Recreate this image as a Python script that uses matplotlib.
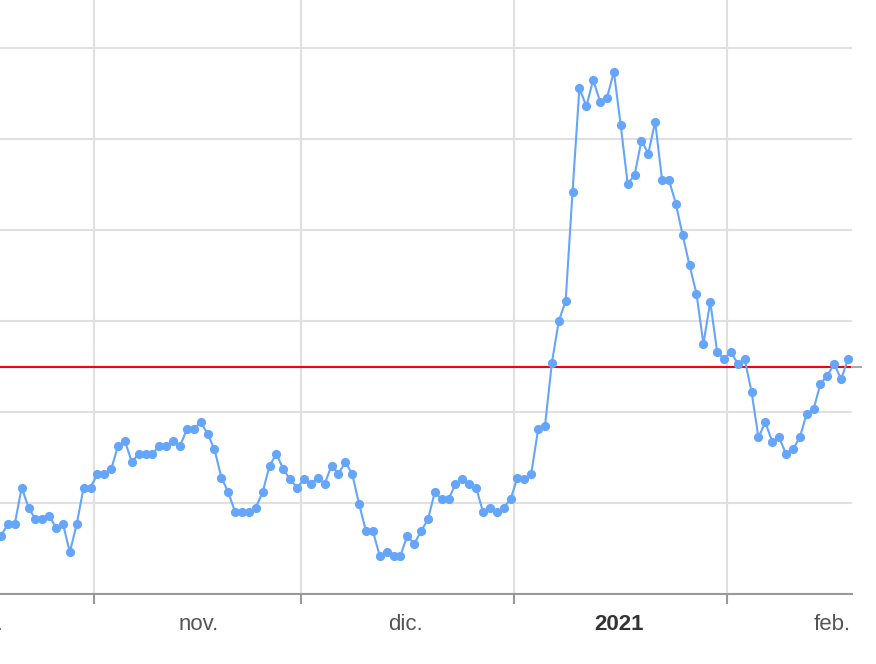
import datetime as dt
import matplotlib
matplotlib.use("Agg")
import matplotlib.pyplot as plt
import matplotlib.dates as mdates
import matplotlib.transforms as mtransforms
import pandas as pd

# daily values (one point per day)
values = [6.4, 7.7, 7.7, 11.7, 9.5, 8.2, 8.2, 8.6, 7.3, 7.7,
          4.6, 7.7, 11.7, 11.7, 13.2, 13.2, 13.7, 16.3, 16.8, 14.5,
          15.4, 15.4, 15.4, 16.3, 16.3, 16.8, 16.3, 18.1, 18.1, 18.9,
          17.6, 15.9, 12.8, 11.2, 9.0, 9.0, 9.0, 9.5, 11.2, 14.1,
          15.4, 13.7, 12.6, 11.7, 12.6, 12.1, 12.8, 12.1, 14.1, 13.2,
          14.5, 13.2, 9.9, 6.9, 6.9, 4.2, 4.6, 4.2, 4.2, 6.4,
          5.5, 6.9, 8.2, 11.2, 10.4, 10.4, 12.1, 12.6, 12.1, 11.7,
          9.0, 9.5, 9.0, 9.5, 10.4, 12.8, 12.6, 13.2, 18.1, 18.5,
          25.4, 30.0, 32.2, 44.2, 55.6, 53.6, 56.5, 54.1, 54.5, 57.4,
          51.5, 45.1, 46.0, 49.8, 48.4, 51.9, 45.5, 45.5, 42.9, 39.4,
          36.1, 33.0, 27.5, 32.1, 26.6, 25.8, 26.6, 25.3, 25.8, 22.2,
          17.2, 18.9, 16.7, 17.2, 15.4, 15.9, 17.2, 19.8, 20.3, 23.1,
          24.0, 25.3, 23.6, 25.8]
dates = pd.date_range("2020-10-18 12:00", periods=len(values), freq="D")

threshold = 25
month_starts = [dt.datetime(2020, 10, 1), dt.datetime(2020, 11, 1), dt.datetime(2020, 12, 1),
                dt.datetime(2021, 1, 1), dt.datetime(2021, 2, 1)]
month_labels = ["oct.", "nov.", "dic.", "2021", "feb."]
y_ticks = [0, 10, 20, 30, 40, 50, 60]

fig = plt.figure(figsize=(8.76, 6.64), dpi=100)
ax = fig.add_axes([0, 70 / 664, 852 / 876, 594 / 664])

x = mdates.date2num(dates)
px_per_day = 6.886
ax.set_xlim(x[0] - 1 / px_per_day, x[0] + 851 / px_per_day)
ax.set_ylim(0, 594 / 9.1)

ax.set_yticks(y_ticks)
ax.set_yticklabels([])
ax.tick_params(axis="y", length=0)
ax.grid(axis="y", color="#e0e0e0", linewidth=1.5)

ticks = mdates.date2num(month_starts[1:])
ax.set_xticks(ticks)
ax.set_xticklabels([])
ax.tick_params(axis="x", length=7, width=1.5, color="#999999")
for t in ticks:
    ax.axvline(t, color="#e0e0e0", linewidth=1.5, zorder=0)

for s in ["left", "right", "top"]:
    ax.spines[s].set_visible(False)
ax.spines["bottom"].set_color("#999999")
ax.spines["bottom"].set_linewidth(1.5)

ax.axhline(threshold, color="#ff0000", linewidth=1.5, zorder=2)
xr = ax.get_xlim()[1]
ax.plot([xr, xr + 9 / px_per_day], [threshold, threshold], color="#aaaaaa",
        linewidth=1.5, clip_on=False)

ax.plot(x, values, color="#65a5fb", linewidth=1.5, marker="o", markersize=5.6,
        zorder=3, clip_on=False)

trans = mtransforms.blended_transform_factory(ax.transData, ax.transAxes)
for m, lab in zip(month_starts, month_labels):
    pos = mdates.date2num(m) + 15.25
    bold = lab == "2021"
    ax.text(pos, -0.052, lab, transform=trans, ha="center", va="center",
            fontsize=16, family="Liberation Sans",
            fontweight="bold" if bold else "normal",
            color="#333333" if bold else "#555555", clip_on=False)

fig.savefig("out.png", dpi=100)
